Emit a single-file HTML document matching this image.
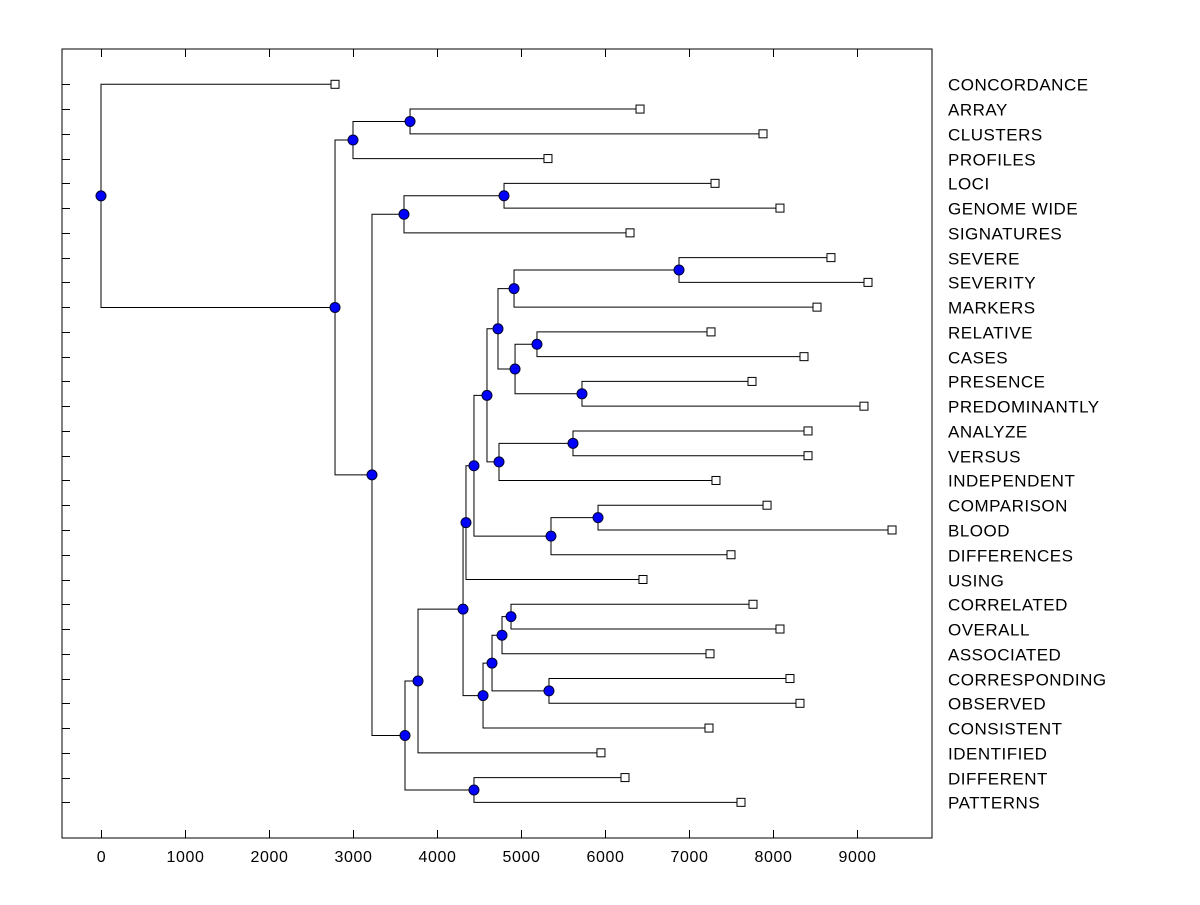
<!DOCTYPE html>
<html><head><meta charset="utf-8"><style>
body{margin:0;background:#fff;}
svg text{font-family:"Liberation Sans",Arial,sans-serif;}
</style></head><body>
<svg id="chart" width="1200" height="900" xmlns="http://www.w3.org/2000/svg">
<rect x="0" y="0" width="1200" height="900" fill="#fff"/>
<g id="g"></g>
</svg>
<script>
const leafNames=["CONCORDANCE","ARRAY","CLUSTERS","PROFILES","LOCI","GENOME WIDE","SIGNATURES","SEVERE","SEVERITY","MARKERS","RELATIVE","CASES","PRESENCE","PREDOMINANTLY","ANALYZE","VERSUS","INDEPENDENT","COMPARISON","BLOOD","DIFFERENCES","USING","CORRELATED","OVERALL","ASSOCIATED","CORRESPONDING","OBSERVED","CONSISTENT","IDENTIFIED","DIFFERENT","PATTERNS"];
const leafValues=[2786,6417,7881,5321,7310,8083,6298,8690,9131,8524,7262,8369,7750,9083,8417,8417,7321,7929,9417,7500,6452,7762,8083,7250,8202,8321,7238,5952,6238,7619];
// merges: [childA, childB, height]; children are leaf names or node ids
const mergeIds=["B1","B","D1","D","R","P","S","T","Q","N","U","O","L","V","M","K","I","Z","X","Y","W","J","H","F","G","E","C","A","root"];
const mergeLeft=["ARRAY","B1","LOCI","D1","SEVERE","R","RELATIVE","PRESENCE","S","P","ANALYZE","U","N","COMPARISON","V","L","K","CORRELATED","Z","CORRESPONDING","X","W","I","H","DIFFERENT","F","D","B","CONCORDANCE"];
const mergeRight=["CLUSTERS","PROFILES","GENOME WIDE","SIGNATURES","SEVERITY","MARKERS","CASES","PREDOMINANTLY","T","Q","VERSUS","INDEPENDENT","O","BLOOD","DIFFERENCES","M","USING","OVERALL","ASSOCIATED","OBSERVED","Y","CONSISTENT","J","IDENTIFIED","PATTERNS","G","E","C","A"];
const mergeHeights=[3679,3000,4798,3607,6881,4917,5190,5726,4929,4726,5619,4738,4595,5917,5357,4440,4345,4881,4774,5333,4655,4548,4310,3774,4440,3619,3226,2786,0];
const xTicks=[0,1000,2000,3000,4000,5000,6000,7000,8000,9000];

const NS="http://www.w3.org/2000/svg";
const g=document.getElementById('g');
const L=62,R=932,T=49,B=838;
const xs=v=>101+v*0.084;
const ys=i=>84.3+i*24.76;
function mk(tag,attrs){const e=document.createElementNS(NS,tag);for(const k in attrs)e.setAttribute(k,attrs[k]);g.appendChild(e);return e;}

const frame=mk('rect',{x:L,y:T,width:R-L,height:B-T,fill:'none',stroke:'#000','stroke-width':1});



xTicks.forEach(v=>{
  const x=Math.round(xs(v))+0.5;
  const t1=mk('line',{x1:x,y1:B,x2:x,y2:B-8,stroke:'#000'});
  
  
  const t2=mk('line',{x1:x,y1:T,x2:x,y2:T+8,stroke:'#000'});
  
  
  const tx=mk('text',{x:x,y:862,'font-size':16,'letter-spacing':0.6,'text-anchor':'middle',fill:'#000'});
  tx.textContent=v;
  
  
});

const pos={};
leafNames.forEach((n,i)=>{
  pos[n]={x:xs(leafValues[i]),y:ys(i)};
  const y=Math.round(ys(i))+0.5;
  const t=mk('line',{x1:L,y1:y,x2:L+8,y2:y,stroke:'#000'});
  
  
  const tx=mk('text',{x:948,y:y+6,'font-size':17,'letter-spacing':0.5,fill:'#000'});
  tx.textContent=n;
  
  
});

const dots=[];
mergeIds.forEach((id,k)=>{
  const a=pos[mergeLeft[k]],b=pos[mergeRight[k]];
  const x=xs(mergeHeights[k]);
  const y=(a.y+b.y)/2;
  const p=mk('path',{d:`M${a.x} ${a.y}H${x}V${b.y}H${b.x}`,fill:'none',stroke:'#000','stroke-width':1});
  
  
  pos[id]={x:x,y:y};
  dots.push([x,y,id]);
});

leafNames.forEach((n,i)=>{
  const p=pos[n];
  const s=mk('rect',{x:p.x-4,y:p.y-4,width:8,height:8,fill:'#fff',stroke:'#000','stroke-width':1});
  
  
});
dots.forEach(d=>{
  const c=mk('circle',{cx:d[0],cy:d[1],r:5,fill:'#0000ff',stroke:'#000030','stroke-width':1});
  
  
});
</script>
</body></html>
